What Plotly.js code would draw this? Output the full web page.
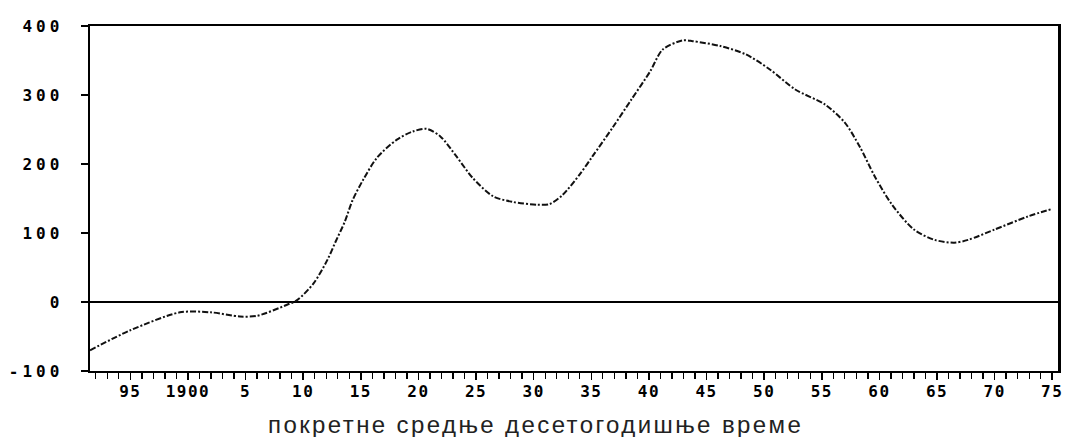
<!DOCTYPE html>
<html>
<head>
<meta charset="utf-8">
<script src="https://cdn.plot.ly/plotly-3.0.1.min.js"></script>
<style>
html,body{margin:0;padding:0;background:#fff;}
#chart{width:1070px;height:437px;}
#chart .ytick text{letter-spacing:4px;}
#chart .xtick text{letter-spacing:1.5px;}
#chart .annotation-text{letter-spacing:2.4px;}
</style>
</head>
<body>
<div id="chart"></div>
<script>
// Moving ten-year averages
const years = [1891.5, 1895.0, 1899.3, 1902.0, 1904.5, 1906.0, 1908.6, 1909.5, 1910.9, 1912.1, 1912.8, 1913.6, 1914.3, 1915.2, 1916.4, 1918.1, 1919.5, 1920.7, 1921.9, 1923.3, 1924.7, 1926.5, 1928.2, 1930.3, 1931.4, 1932.5, 1934.0, 1935.1, 1936.9, 1938.5, 1940.1, 1941.2, 1942.9, 1943.8, 1946.2, 1948.4, 1950.5, 1952.7, 1955.3, 1957.0, 1958.3, 1959.6, 1961.1, 1963.0, 1964.8, 1966.5, 1967.7, 1970.0, 1972.9, 1975.0];
const values = [-70, -41, -15, -15, -21, -20, -4, 3, 27, 61, 87, 116, 148, 177, 209, 235, 247, 251, 240, 211, 180, 153, 145, 141, 142, 155, 185, 211, 254, 294, 334, 366, 379, 378, 371, 359, 337, 308, 286, 260, 225, 182, 141, 105, 90, 86, 90, 105, 124, 135];

const xTickVals = [1895, 1900, 1905, 1910, 1915, 1920, 1925, 1930, 1935, 1940, 1945, 1950, 1955, 1960, 1965, 1970, 1975];
const xTickText = ['95', '1900', '5', '10', '15', '20', '25', '30', '35', '40', '45', '50', '55', '60', '65', '70', '75'];
const yTickVals = [-100, 0, 100, 200, 300, 400];
const yTickText = ['-100', '0', '100', '200', '300', '400'];
const xTitle = 'покретне средње десетогодишње време';

const traces = [{
  x: years,
  y: values,
  type: 'scatter',
  mode: 'lines',
  line: {color: '#111', width: 2, shape: 'spline', smoothing: 0.8, dash: '6px,2px,2px,2px'},
  hoverinfo: 'skip'
}];

const layout = {
  width: 1070,
  height: 437,
  margin: {l: 90, r: 12, t: 26, b: 66},
  paper_bgcolor: '#fff',
  plot_bgcolor: '#fff',
  showlegend: false,
  xaxis: {
    range: [1891.5, 1975.5],
    tickmode: 'array',
    tickvals: xTickVals,
    ticktext: xTickText,
    ticks: 'outside',
    ticklen: 7,
    tickwidth: 1.5,
    tickcolor: '#000',
    minor: {dtick: 1, tick0: 1891, ticks: 'outside', ticklen: 6, tickwidth: 1.3, tickcolor: '#000'},
    showgrid: false,
    zeroline: false,
    showline: true,
    linecolor: '#000',
    linewidth: 2,
    mirror: true,
    tickfont: {family: 'DejaVu Sans Mono, monospace', size: 16, color: '#000', weight: 'bold'},
    ticklabelstandoff: -2
  },
  yaxis: {
    range: [-100, 400],
    tickmode: 'array',
    tickvals: yTickVals,
    ticktext: yTickText,
    ticks: 'outside',
    ticklen: 7,
    tickwidth: 1.5,
    tickcolor: '#000',
    showgrid: false,
    zeroline: true,
    zerolinecolor: '#000',
    zerolinewidth: 2,
    showline: true,
    linecolor: '#000',
    linewidth: 2.5,
    mirror: true,
    tickfont: {family: 'DejaVu Sans Mono, monospace', size: 16, color: '#000', weight: 'bold'},
    ticklabelstandoff: 14
  },
  annotations: [{
    text: xTitle,
    xref: 'paper', yref: 'paper',
    x: (535 - 90) / (1070 - 90 - 12), y: 0,
    xanchor: 'center', yanchor: 'middle',
    yshift: -(424 - 371),
    showarrow: false,
    font: {family: 'Liberation Sans, Arial, sans-serif', size: 24, color: '#222'}
  }]
};

Plotly.newPlot('chart', traces, layout, {displayModeBar: false, staticPlot: true});
</script>
</body>
</html>
